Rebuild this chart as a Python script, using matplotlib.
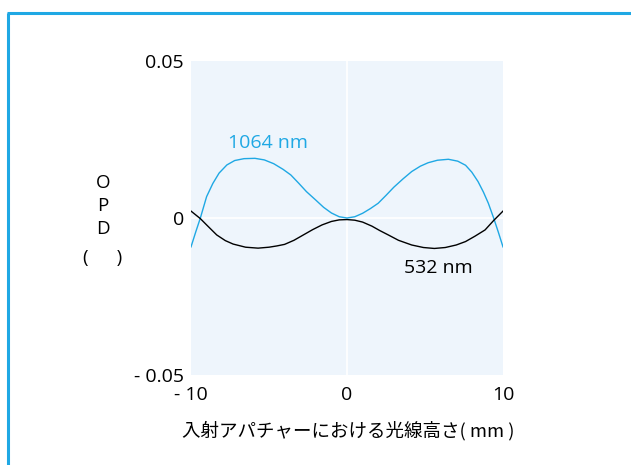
import matplotlib
matplotlib.use("Agg")
import matplotlib.pyplot as plt
from matplotlib.lines import Line2D

LATIN = ['Open Sans', 'Noto Sans CJK JP', 'DejaVu Sans']
CJK = ['Noto Sans CJK JP', 'DejaVu Sans']
plt.rcParams['font.family'] = LATIN

# Ray height at the entrance aperture (mm) and OPD readings, 1064 nm
x_1064 = [-10.0, -9.7, -9.4, -9.0, -8.6, -8.2, -7.7, -7.2, -6.6, -5.9, -5.3, -4.7,
          -4.1, -3.6, -3.1, -2.6, -2.0, -1.5, -1.0, -0.5, 0.0, 0.5, 1.0, 1.5, 2.0,
          2.5, 3.0, 3.6, 4.15, 4.7, 5.2, 5.8, 6.5, 7.1, 7.6, 8.0, 8.4, 8.75, 9.06,
          9.4, 9.7, 10.0]
opd_1064 = [-0.0092, -0.0045, 0.0, 0.0068, 0.0110, 0.0143, 0.0169, 0.0183, 0.0189,
            0.0190, 0.0185, 0.0173, 0.0155, 0.0137, 0.0111, 0.0084, 0.0057, 0.0034,
            0.0016, 0.0004, 0.0, 0.0004, 0.0015, 0.0030, 0.0047, 0.0072, 0.0098,
            0.0125, 0.0148, 0.0165, 0.0176, 0.0184, 0.0187, 0.0181, 0.0168, 0.0146,
            0.0116, 0.0082, 0.0047, 0.0, -0.0045, -0.0092]

# OPD readings, 532 nm
x_532 = [-10.0, -9.7, -9.4, -9.0, -8.35, -7.8, -7.3, -6.5, -5.7, -5.0, -4.5, -4.0,
         -3.4, -2.8, -2.2, -1.6, -1.0, -0.5, 0.0, 0.5, 1.0, 1.6, 2.1, 2.65, 3.3,
         4.15, 4.9, 5.6, 6.3, 7.0, 7.6, 8.2, 8.85, 9.4, 9.7, 10.0]
opd_532 = [0.0022, 0.0010, -0.0002, -0.0022, -0.0054, -0.0072, -0.0083, -0.0093,
           -0.0096, -0.0093, -0.0089, -0.0084, -0.0071, -0.0054, -0.0037, -0.0022,
           -0.0011, -0.0006, -0.0005, -0.0007, -0.0013, -0.0026, -0.0040, -0.0054,
           -0.0071, -0.0086, -0.0094, -0.0097, -0.0094, -0.0086, -0.0075, -0.0058,
           -0.0038, -0.0008, 0.0007, 0.0022]

x_ticks = [-10, 0, 10]
x_tick_labels = ['- 10', '0', '10']
y_ticks = [-0.05, 0, 0.05]
y_tick_labels = ['- 0.05', '0', '0.05']

label_1064 = '1064 nm'
label_532 = '532 nm'
x_title = '入射アパチャーにおける光線高さ( mm )'
y_title_lines = ['O', 'P', 'D', '(\u2003\u2002)']
y_title_pos = [0.612, 0.538, 0.465, 0.372]

BLUE = '#1FA8E4'
PANEL = '#EEF5FC'

W, H = 631, 465
fig = plt.figure(figsize=(W / 100, H / 100), dpi=100)
fig.patch.set_facecolor('white')

# cyan frame along the left and top edges
fig.add_artist(Line2D([8 / W, 8 / W], [0, 1 - 13 / H], transform=fig.transFigure,
                      color=BLUE, lw=2.2, solid_capstyle='butt'))
fig.add_artist(Line2D([7 / W, 1], [1 - 13 / H, 1 - 13 / H], transform=fig.transFigure,
                      color=BLUE, lw=2.2, solid_capstyle='butt'))

left, right, top, bottom = 191, 503, 61, 375
ax = fig.add_axes([left / W, 1 - bottom / H, (right - left) / W, (bottom - top) / H])
ax.set_facecolor(PANEL)
for s in ax.spines.values():
    s.set_visible(False)

ax.set_xlim(-10, 10)
ax.set_ylim(-0.05, 0.05)

ax.axhline(0, color='white', lw=1.2, zorder=1)
ax.axvline(0, color='white', lw=1.2, zorder=1)

ax.plot(x_1064, opd_1064, color=BLUE, lw=1.0, zorder=3)
ax.plot(x_532, opd_532, color='black', lw=1.0, zorder=3)

ax.text(-5.06, 0.0238, label_1064, color=BLUE, fontsize=14, ha='center', va='center')
ax.text(5.83, -0.0160, label_532, color='black', fontsize=14, ha='center', va='center')

ax.set_xticks(x_ticks)
ax.set_xticklabels(x_tick_labels, fontsize=14)
ax.set_yticks(y_ticks)
ax.set_yticklabels(y_tick_labels, fontsize=14)
ax.tick_params(axis='both', length=0)
ax.tick_params(axis='x', pad=8)
ax.tick_params(axis='y', pad=5)

ax.text(0.505, -0.176, x_title, transform=ax.transAxes, fontsize=13.3,
        family=CJK, ha='center', va='center')

# stacked axis title
for txt, yp in zip(y_title_lines, y_title_pos):
    ax.text(-0.282, yp, txt, transform=ax.transAxes, fontsize=13.5,
            ha='center', va='center')

fig.savefig('out.png', dpi=100, facecolor='white')
